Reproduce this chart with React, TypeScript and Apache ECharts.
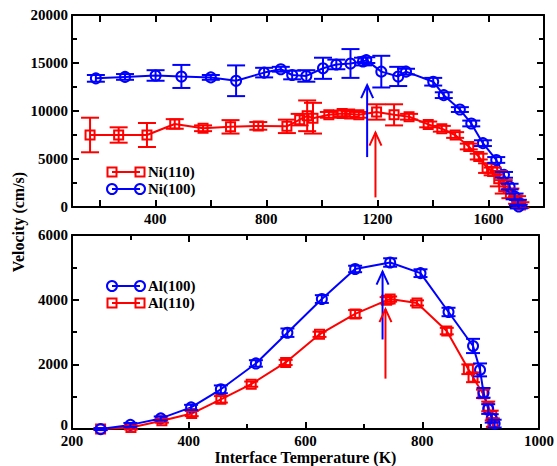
import React, { useEffect, useRef } from 'react';
import * as echarts from 'echarts';

// ---------- Top panel: Ni ----------
const niTemp100 = [186, 291, 401, 494, 600, 691, 792, 852, 893, 944, 1004, 1052, 1103, 1148, 1160, 1214, 1275, 1303, 1401, 1439, 1497, 1538, 1580, 1628, 1656, 1676, 1694, 1706, 1709];
const niVel100 = [13400, 13550, 13700, 13600, 13500, 13150, 14000, 14350, 13750, 13650, 14450, 14850, 14950, 15150, 15300, 14100, 13600, 14100, 13050, 11650, 10150, 8700, 6650, 4900, 3350, 2120, 1100, 450, 50];
const niErr100 = [350, 300, 550, 1200, 250, 1600, 500, 250, 450, 600, 1100, 500, 1500, 400, 300, 1650, 1000, 300, 400, 300, 250, 300, 300, 300, 300, 300, 300, 300, 200];

const niTemp110 = [165, 268, 370, 470, 572, 671, 771, 874, 920, 947, 968, 1025, 1073, 1100, 1133, 1197, 1260, 1314, 1383, 1432, 1480, 1529, 1565, 1595, 1615, 1637, 1655, 1679, 1703, 1715];
const niVel110 = [7500, 7500, 7500, 8650, 8200, 8350, 8450, 8400, 9100, 9500, 9250, 9600, 9750, 9700, 9600, 9900, 9600, 9400, 8600, 8150, 7500, 6300, 5250, 4050, 3700, 2950, 2100, 1420, 730, 200];
const niErr110 = [1800, 800, 1250, 500, 300, 700, 400, 700, 600, 1600, 1600, 300, 300, 300, 300, 800, 1100, 300, 300, 300, 300, 300, 300, 500, 400, 800, 700, 500, 400, 300];

// arrows: [temperature, from velocity, to velocity]
const niArrow100 = [1163, 5200, 12700];
const niArrow110 = [1193, 1000, 7750];

// ---------- Bottom panel: Al ----------
const alTemp100 = [249, 300, 352, 404, 455, 515, 569, 628, 685, 745, 797, 845, 887, 899, 905, 913, 919, 924];
const alVel100 = [0, 130, 330, 670, 1230, 2030, 2980, 4020, 4950, 5150, 4820, 3620, 2570, 1830, 1120, 620, 330, 170];
const alErr100 = [30, 60, 60, 80, 120, 100, 130, 120, 100, 130, 120, 130, 220, 200, 150, 150, 130, 120];

const alTemp110 = [249, 301, 354, 405, 455, 507, 566, 624, 685, 739, 745, 791, 842, 879, 887, 904, 913, 919, 921];
const alVel110 = [0, 50, 260, 480, 920, 1390, 2060, 2930, 3560, 3980, 4020, 3900, 3030, 1850, 1600, 1090, 700, 420, 200];
const alErr110 = [30, 60, 60, 80, 100, 80, 80, 80, 120, 100, 80, 80, 100, 150, 150, 130, 150, 150, 130];

const alArrow100 = [732, 2770, 4870];
const alArrow110 = [737, 1560, 3710];

// tick labels
const topXTicks = [200, 400, 600, 800, 1000, 1200, 1400, 1600, 1800];
const topXLabels = [400, 800, 1200, 1600];

const FONT = 'Liberation Serif';
const BLUE = '#0000ff';
const RED = '#ff0000';

function lineSeries(name: string, idx: number, temps: number[], vals: number[], color: string, symbol: string) {
  return {
    name,
    type: 'line',
    xAxisIndex: idx,
    yAxisIndex: idx,
    data: temps.map((t, i) => [t, vals[i]]),
    symbol,
    symbolSize: symbol === 'rect' ? 9 : 10,
    showSymbol: true,
    clip: false,
    itemStyle: { color: 'rgba(255,255,255,0)', borderColor: color, borderWidth: 2 },
    lineStyle: { color, width: 2 },
    z: 4,
    silent: true,
  };
}

function errSeries(idx: number, temps: number[], vals: number[], errs: number[], color: string, cap: number) {
  return {
    type: 'custom',
    xAxisIndex: idx,
    yAxisIndex: idx,
    clip: false,
    silent: true,
    z: 5,
    data: temps.map((t, i) => [t, vals[i] - errs[i], vals[i] + errs[i]]),
    encode: { x: 0, y: [1, 2] },
    renderItem: (_p: any, api: any) => {
      const lo = api.coord([api.value(0), api.value(1)]);
      const hi = api.coord([api.value(0), api.value(2)]);
      const st = { stroke: color, lineWidth: 2 };
      return {
        type: 'group',
        children: [
          { type: 'line', shape: { x1: lo[0], y1: lo[1], x2: hi[0], y2: hi[1] }, style: st },
          { type: 'line', shape: { x1: lo[0] - cap, y1: lo[1], x2: lo[0] + cap, y2: lo[1] }, style: st },
          { type: 'line', shape: { x1: hi[0] - cap, y1: hi[1], x2: hi[0] + cap, y2: hi[1] }, style: st },
        ],
      };
    },
  };
}

function arrowSeries(idx: number, arrow: number[], color: string) {
  return {
    type: 'custom',
    xAxisIndex: idx,
    yAxisIndex: idx,
    clip: false,
    silent: true,
    z: 6,
    data: [arrow],
    encode: { x: 0, y: [1, 2] },
    renderItem: (_p: any, api: any) => {
      const a = api.coord([api.value(0), api.value(1)]);
      const b = api.coord([api.value(0), api.value(2)]);
      const st = { stroke: color, lineWidth: 2, fill: 'none' };
      return {
        type: 'group',
        children: [
          { type: 'line', shape: { x1: a[0], y1: a[1], x2: b[0], y2: b[1] }, style: st },
          { type: 'polyline', shape: { points: [[b[0] - 6, b[1] + 13], [b[0], b[1]], [b[0] + 6, b[1] + 13]] }, style: st },
        ],
      };
    },
  };
}

const plain = (v: number) => String(v);
const labelStyle = { fontFamily: FONT, fontWeight: 'bold', fontSize: 15, color: '#000', formatter: plain };
const axisLine = { show: true, onZero: false, lineStyle: { color: '#000', width: 2 } };

function legendItem(x: number, y: number, color: string, symbol: 'rect' | 'circle', text: string) {
  const st = { stroke: color, lineWidth: 2, fill: 'none' };
  const mk = (cx: number) =>
    symbol === 'rect'
      ? { type: 'rect', shape: { x: cx - 4.5, y: y - 4.5, width: 9, height: 9 }, style: st }
      : { type: 'circle', shape: { cx, cy: y, r: 5 }, style: st };
  return [
    { type: 'line', shape: { x1: x, y1: y, x2: x + 28, y2: y }, style: st },
    mk(x),
    mk(x + 28),
    {
      type: 'text',
      x: x + 36,
      y,
      style: { text, fontFamily: FONT, fontWeight: 'bold', fontSize: 15, fill: '#000', textVerticalAlign: 'middle' },
    },
  ];
}

export default function App() {
  const ref = useRef<HTMLDivElement>(null);
  useEffect(() => {
    if (!ref.current) return;
    const chart = echarts.init(ref.current, null, { renderer: 'svg' });
    const tickStyle = { color: '#000', width: 2 };
    const option: any = {
      animation: false,
      backgroundColor: '#fff',
      grid: [
        { left: 72, top: 15, width: 472, height: 192 },
        { left: 72, top: 235, width: 471, height: 195 },
      ],
      xAxis: [
        {
          gridIndex: 0, type: 'value', min: 100, max: 1800, position: 'bottom',
          axisLine, splitLine: { show: false },
          axisTick: { show: true, inside: true, length: 7, customValues: topXTicks, lineStyle: tickStyle },
          axisLabel: { ...labelStyle, customValues: topXLabels, margin: 4 },
        },
        {
          gridIndex: 0, type: 'value', min: 100, max: 1800, position: 'top',
          axisLine, splitLine: { show: false },
          axisTick: { show: true, inside: true, length: 7, customValues: topXTicks, lineStyle: tickStyle },
          axisLabel: { show: false },
        },
        {
          gridIndex: 1, type: 'value', min: 200, max: 1000, interval: 200, position: 'bottom',
          axisLine, splitLine: { show: false },
          axisTick: { show: true, inside: true, length: 7, lineStyle: tickStyle },
          minorTick: { show: true, splitNumber: 2, length: 5, lineStyle: tickStyle },
          axisLabel: { ...labelStyle, margin: 4 },
          name: 'Interface Temperature (K)', nameLocation: 'middle', nameGap: 13,
          nameTextStyle: { fontFamily: FONT, fontWeight: 'bold', fontSize: 16, color: '#000', verticalAlign: 'top' },
        },
        {
          gridIndex: 1, type: 'value', min: 200, max: 1000, interval: 200, position: 'top',
          axisLine, splitLine: { show: false },
          axisTick: { show: true, inside: true, length: 7, lineStyle: tickStyle },
          minorTick: { show: true, splitNumber: 2, length: 5, lineStyle: tickStyle },
          axisLabel: { show: false },
        },
      ],
      yAxis: [
        {
          gridIndex: 0, type: 'value', min: 0, max: 20000, interval: 5000, position: 'left',
          axisLine, splitLine: { show: false },
          axisTick: { show: true, inside: true, length: 7, lineStyle: tickStyle },
          minorTick: { show: true, splitNumber: 2, length: 5, lineStyle: tickStyle },
          axisLabel: { ...labelStyle, margin: 4 },
        },
        {
          gridIndex: 0, type: 'value', min: 0, max: 20000, interval: 5000, position: 'right',
          axisLine, splitLine: { show: false },
          axisTick: { show: true, inside: true, length: 7, lineStyle: tickStyle },
          minorTick: { show: true, splitNumber: 2, length: 5, lineStyle: tickStyle },
          axisLabel: { show: false },
        },
        {
          gridIndex: 1, type: 'value', min: 0, max: 6000, interval: 2000, position: 'left',
          axisLine, splitLine: { show: false },
          axisTick: { show: true, inside: true, length: 7, lineStyle: tickStyle },
          minorTick: { show: true, splitNumber: 2, length: 5, lineStyle: tickStyle },
          axisLabel: {
            ...labelStyle, margin: 4,
            formatter: (v: number) => (v === 0 ? '{z|0}' : String(v)),
            rich: { z: { fontFamily: FONT, fontWeight: 'bold', fontSize: 15, color: '#000', padding: [0, 0, 8, 0] } },
          },
        },
        {
          gridIndex: 1, type: 'value', min: 0, max: 6000, interval: 2000, position: 'right',
          axisLine, splitLine: { show: false },
          axisTick: { show: true, inside: true, length: 7, lineStyle: tickStyle },
          minorTick: { show: true, splitNumber: 2, length: 5, lineStyle: tickStyle },
          axisLabel: { show: false },
        },
      ],
      series: [
        lineSeries('Ni(110)', 0, niTemp110, niVel110, RED, 'rect'),
        errSeries(0, niTemp110, niVel110, niErr110, RED, 9),
        lineSeries('Ni(100)', 0, niTemp100, niVel100, BLUE, 'circle'),
        errSeries(0, niTemp100, niVel100, niErr100, BLUE, 9),
        arrowSeries(0, niArrow100, BLUE),
        arrowSeries(0, niArrow110, RED),
        lineSeries('Al(110)', 2, alTemp110, alVel110, RED, 'rect'),
        errSeries(2, alTemp110, alVel110, alErr110, RED, 7),
        lineSeries('Al(100)', 2, alTemp100, alVel100, BLUE, 'circle'),
        errSeries(2, alTemp100, alVel100, alErr100, BLUE, 7),
        arrowSeries(2, alArrow100, BLUE),
        arrowSeries(2, alArrow110, RED),
      ],
      graphic: [
        ...legendItem(112, 172, RED, 'rect', 'Ni(110)'),
        ...legendItem(112, 189, BLUE, 'circle', 'Ni(100)'),
        ...legendItem(112, 286, BLUE, 'circle', 'Al(100)'),
        ...legendItem(112, 303, RED, 'rect', 'Al(110)'),
        {
          type: 'text',
          x: 18,
          y: 222,
          rotation: Math.PI / 2,
          style: {
            text: 'Velocity (cm/s)', fontFamily: FONT, fontWeight: 'bold', fontSize: 16, fill: '#000',
            textAlign: 'center', textVerticalAlign: 'middle',
          },
        },
      ],
    };
    chart.setOption(option);
    return () => chart.dispose();
  }, []);
  return <div ref={ref} style={{ width: 557, height: 466, position: 'absolute', left: 0, top: 0 }} />;
}
